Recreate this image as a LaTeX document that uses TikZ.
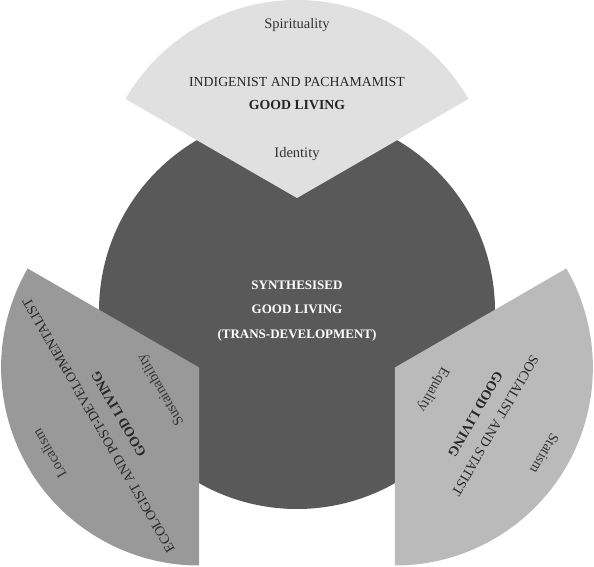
\documentclass[tikz,border=0pt]{standalone}
\usepackage{fontspec}
\setmainfont{Liberation Serif}
\definecolor{core}{gray}{0.35}
\definecolor{indig}{gray}{0.88}
\definecolor{ecolog}{gray}{0.60}
\definecolor{social}{gray}{0.73}
\tikzset{
  value/.style={font=\fontsize{14.5}{16}\selectfont, text=black!80},
  title/.style={align=center, font=\fontsize{13.8}{23}\selectfont, text=black!85},
}
\begin{document}
\begin{tikzpicture}[x=1pt, y=1pt]
  \useasboundingbox (-297,-256) rectangle (297,311);
  \clip (-297,-256) rectangle (297,311);
  \fill[core] (0,0) circle (198);
  % top petal
  \begin{scope}[rotate=0, transform shape]
    \fill[indig] (0,113) -- ++(30:198) arc[start angle=30, end angle=150, radius=198] -- cycle;
    \node[value] (spirit) at (0,286) {Spirituality};
    \node[title] (indigenist) at (0,217.5) {INDIGENIST AND PACHAMAMIST\\\textbf{GOOD LIVING}};
    \node[value] (identity) at (0,157) {Identity};
  \end{scope}
  % left petal
  \begin{scope}[rotate=120, transform shape]
    \fill[ecolog] (0,113) -- ++(30:198) arc[start angle=30, end angle=150, radius=198] -- cycle;
    \node[value] (localism) at (0,286) {Localism};
    \node[title] (ecologist) at (0,217.5) {ECOLOGIST AND POST-DEVELOPMENTALIST\\\textbf{GOOD LIVING}};
    \node[value] (sustain) at (0,157) {Sustainability};
  \end{scope}
  % right petal
  \begin{scope}[rotate=-120, transform shape]
    \fill[social] (0,113) -- ++(30:198) arc[start angle=30, end angle=150, radius=198] -- cycle;
    \node[value] (statism) at (0,286) {Statism};
    \node[title] (socialist) at (0,217.5) {SOCIALIST AND STATIST\\\textbf{GOOD LIVING}};
    \node[value] (equality) at (0,157) {Equality};
  \end{scope}
  \node[align=center, text=white, font=\bfseries\fontsize{13}{24.5}\selectfont] (synth) at (0,0)
    {SYNTHESISED\\GOOD LIVING\\(TRANS-DEVELOPMENT)};
\end{tikzpicture}
\end{document}
